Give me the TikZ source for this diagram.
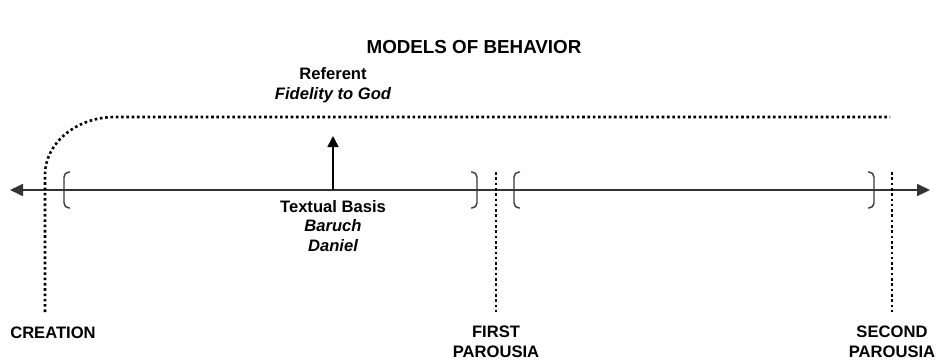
\documentclass[tikz,border=0pt]{standalone}
\usepackage{fontspec}
\setmainfont{Liberation Sans}
\usetikzlibrary{arrows.meta}
\begin{document}
\begin{tikzpicture}[x=1pt,y=-1pt,
  lbl/.style={font=\fontsize{16.6}{19.5}\selectfont\bfseries, align=center, inner sep=0pt, text=black},
  mainline/.style={draw=black!80, line width=1.7pt},
  dotline/.style={draw=black, line width=2.6pt, dash pattern=on 2.6pt off 2.7pt},
  brk/.style={draw=black!78, line width=1.4pt, rounded corners=5pt},
  bigtip/.style={-{Triangle[length=13pt,width=12pt]}},
]
\useasboundingbox (0,0) rectangle (948,361);
% title
\node[lbl, font=\fontsize{18.8}{22}\selectfont\bfseries] (title) at (474,47) {MODELS OF BEHAVIOR};
% main timeline
\coordinate (L) at (10,190);
\coordinate (R) at (930,190);
\coordinate (M) at (470,190);
\draw[mainline, bigtip] (M) -- (L);
\draw[mainline, bigtip] (M) -- (R);
% dotted lines
\coordinate (c0) at (45,312);
\coordinate (c1) at (45,175);
\coordinate (c2) at (890,117);
\draw[dotline] (c0) -- (c1) arc[start angle=180, end angle=270, x radius=70, y radius=58] -- (c2);
\coordinate (f0) at (496,172);
\coordinate (f1) at (496,312);
\draw[dotline] (f0) -- (f1);
\coordinate (s0) at (892,172);
\coordinate (s1) at (892,312);
\draw[dotline] (s0) -- (s1);
% brackets
\draw[brk] (70,172) -- (64,172) -- (64,208) -- (70,208);
\draw[brk] (471,172) -- (477,172) -- (477,208) -- (471,208);
\draw[brk] (520,172) -- (514,172) -- (514,208) -- (520,208);
\draw[brk] (868,172) -- (874,172) -- (874,208) -- (868,208);
% up arrow
\coordinate (a0) at (333,190);
\coordinate (a1) at (333,136);
\draw[draw=black, line width=1.5pt, -{Triangle[length=11pt,width=11pt]}] (a0) -- (a1);
% texts
\node[lbl] (ref) at (333,85) {Referent\\\itshape Fidelity to God};
\node[lbl] (tb) at (333,226) {Textual Basis\\\itshape Baruch\\\itshape Daniel};
\node[lbl] (cre) at (53,333) {CREATION};
\node[lbl] (fp) at (496,342) {FIRST\\PAROUSIA};
\node[lbl] (sp) at (892,342) {SECOND\\PAROUSIA};
\end{tikzpicture}
\end{document}
